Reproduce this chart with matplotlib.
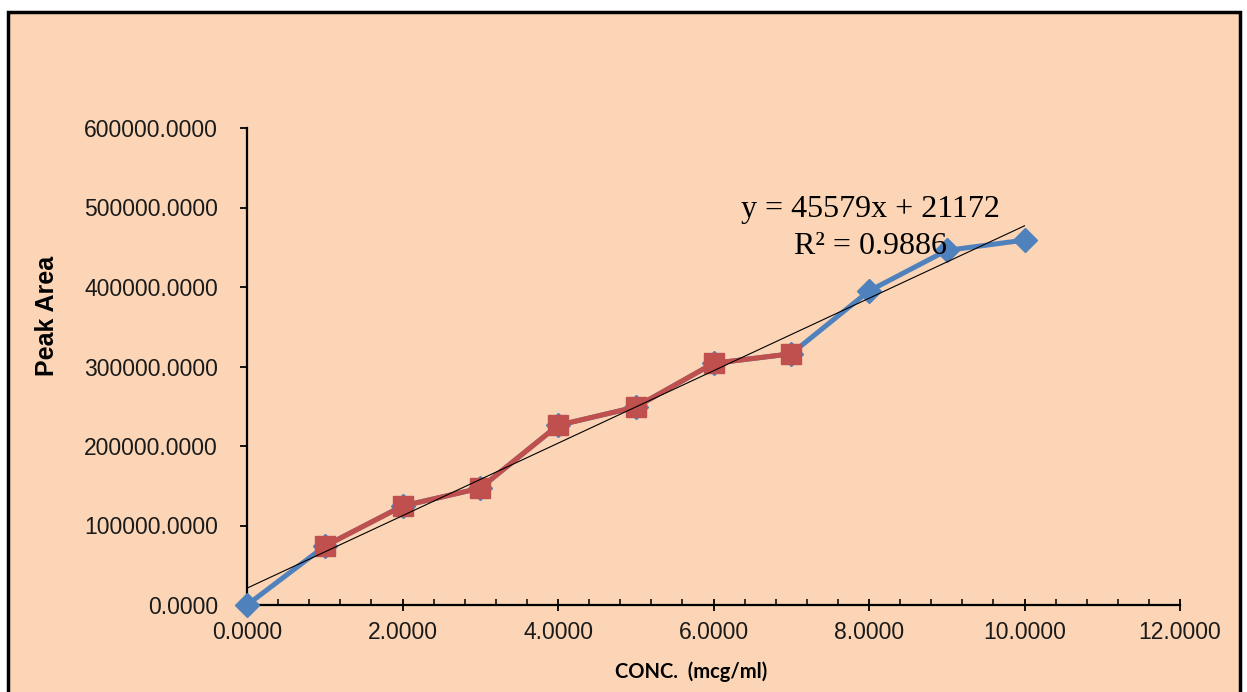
import matplotlib.pyplot as plt
from matplotlib.patches import Rectangle
from matplotlib.ticker import FormatStrFormatter, MultipleLocator

# concentration (mcg/ml) and peak area
conc = [0, 1, 2, 3, 4, 5, 6, 7, 8, 9, 10]
peak_area = [0, 74000, 124500, 147000, 226000, 249000, 304000, 316000, 395000, 446000, 459000]

# the middle part of the curve is drawn over in red
red_conc = conc[1:8]
red_area = peak_area[1:8]

slope = 45579
intercept = 21172
r_squared = 0.9886

BLUE = "#4F81BD"
RED = "#C0504D"
BG = "#FBD5B5"

W, H = 1247, 692
fig = plt.figure(figsize=(W / 100, H / 100), dpi=100, facecolor="white")

# peach chart area with black frame (bottom edge runs off the picture)
fig.patches.append(Rectangle((8 / W, -0.02), (1240 - 8) / W, 1 - 12 / H + 0.02,
                             transform=fig.transFigure, facecolor=BG,
                             edgecolor="black", linewidth=2.5, zorder=-10))

ax = fig.add_axes([247 / W, 1 - 605 / H, (1180 - 247) / W, (605 - 128) / H])
ax.set_facecolor("none")
ax.set_zorder(1)

ax.plot(conc, peak_area, color=BLUE, lw=3.6, marker="D", ms=12,
        markeredgecolor=BLUE, zorder=3, clip_on=False)
ax.plot(red_conc, red_area, color=RED, lw=3.6, marker="s", ms=14.5,
        markeredgecolor=RED, zorder=4, clip_on=False)

fit_x = [0, 10]
fit_y = [intercept + slope * v for v in fit_x]
ax.plot(fit_x, fit_y, color="black", lw=0.8, zorder=5)

ax.set_xlim(0, 12)
ax.set_ylim(0, 600000)
ax.xaxis.set_major_locator(MultipleLocator(2))
ax.xaxis.set_minor_locator(MultipleLocator(0.4))
ax.yaxis.set_major_locator(MultipleLocator(100000))
ax.xaxis.set_major_formatter(FormatStrFormatter("%.4f"))
ax.yaxis.set_major_formatter(FormatStrFormatter("%.4f"))

for side in ["top", "right"]:
    ax.spines[side].set_visible(False)
for side in ["left", "bottom"]:
    ax.spines[side].set_linewidth(1.6)

ax.tick_params(axis="x", which="major", direction="inout", length=9, width=1.3, pad=7)
ax.tick_params(axis="x", which="minor", direction="in", length=4, width=1.1)
ax.tick_params(axis="y", which="major", direction="out", length=5, width=1.3, pad=16)
for lab in ax.get_xticklabels() + ax.get_yticklabels():
    lab.set_fontfamily("Liberation Sans")
    lab.set_fontsize(16.5)
    lab.set_color("#1a1a1a")

fig.text(691 / W, 1 - 672 / H, "CONC.  (mcg/ml)", ha="center", va="center",
         family="Lato", weight="bold", size=14.5)
fig.text(47 / W, 1 - 316 / H, "Peak Area", ha="center", va="center", rotation=90,
         family="Liberation Sans", weight="bold", size=18)

eq_font = dict(family="Liberation Serif", size=23, ha="center", va="center")
fig.text(870 / W, 1 - 210 / H, f"y = {slope}x + {intercept}", **eq_font)
fig.text(870 / W, 1 - 246 / H, f"R² = {r_squared}", **eq_font)

fig.savefig("out.png", dpi=100, facecolor="white")
